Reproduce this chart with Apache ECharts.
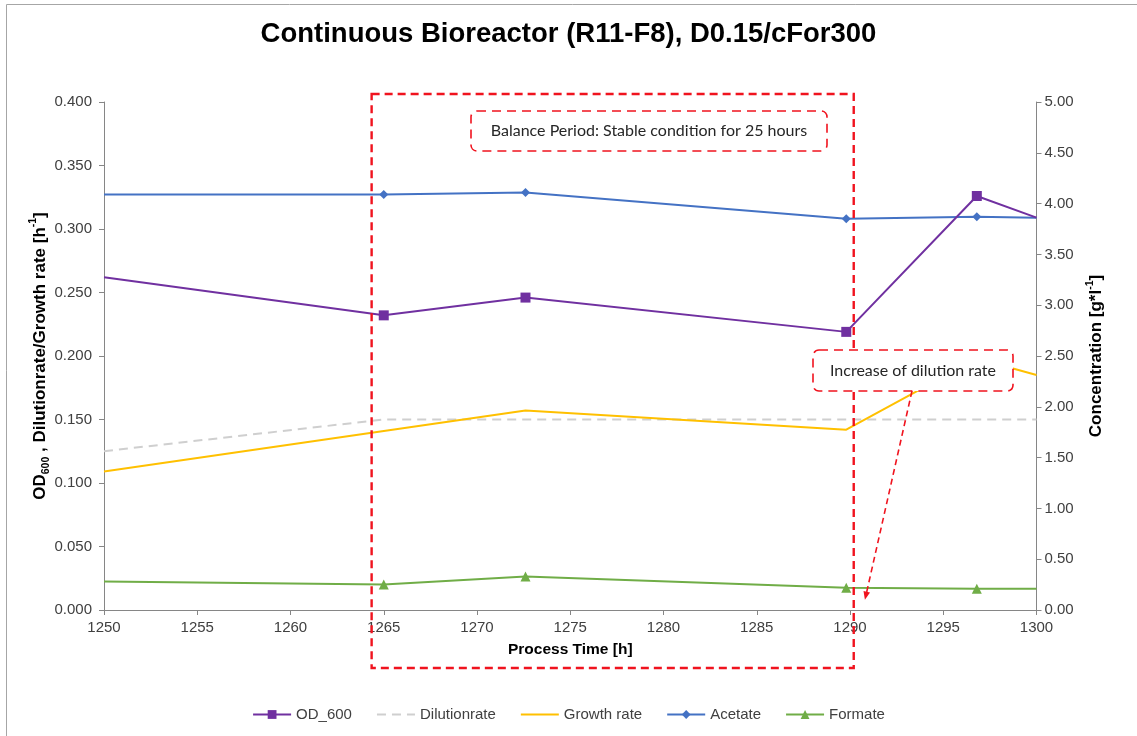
<!DOCTYPE html>
<html>
<head>
<meta charset="utf-8">
<title>Continuous Bioreactor (R11-F8), D0.15/cFor300</title>
<script src="https://cdn.jsdelivr.net/npm/echarts@6/dist/echarts.min.js"></script>
<style>
  html, body { margin: 0; padding: 0; background: #ffffff; }
  #chart { width: 1137px; height: 736px; }
</style>
</head>
<body>
<div id="chart"></div>
<script>
// Process time [h] of each reading; the first and last entries are where the lines meet the plot edges
const odTime = [1250, 1265, 1272.6, 1289.8, 1296.8, 1300];
const od600 = [0.262, 0.232, 0.246, 0.219, 0.326, 0.309];

const dilutionTime = [1250, 1265, 1300];
const dilutionRate = [0.125, 0.150, 0.150];

const growthTime = [1250, 1272.6, 1289.8, 1296.8, 1300];
const growthRate = [0.109, 0.157, 0.142, 0.198, 0.185];

const concTime = [1250, 1265, 1272.6, 1289.8, 1296.8, 1300];
const acetate = [4.09, 4.09, 4.11, 3.85, 3.87, 3.86];
const formate = [0.28, 0.25, 0.33, 0.22, 0.21, 0.21];

const xMin = 1250, xMax = 1300, xStep = 5;
const leftTicks = { min: 0, max: 0.4, step: 0.05, digits: 3 };
const rightTicks = { min: 0, max: 5, step: 0.5, digits: 2 };

// balance window and the dilution step it points to [h]
const balanceStart = 1264.35, balanceEnd = 1290.2;
const stepTime = 1290.8;

const FONT = 'Liberation Sans, Arial, sans-serif';
const NOTE_FONT = 'Lato, "Open Sans", sans-serif';
const RED = '#f0131e';

// points cut by the plot edge carry no marker
const points = (xs, ys) => xs.map((x, i) => {
  const item = { value: [x, ys[i]] };
  if (x <= xMin || x >= xMax) item.symbol = 'none';
  return item;
});

const chart = echarts.init(document.getElementById('chart'), null, { renderer: 'canvas' });

const axisLine = { show: true, lineStyle: { color: '#868686', width: 1 } };
const axisTick = { show: true, length: 5, lineStyle: { color: '#868686' } };
const tickLabel = { color: '#404040', fontSize: 15, fontFamily: FONT };
const nameRich = {
  a: { fontFamily: FONT, fontSize: 17, fontWeight: 'bold', color: '#000', lineHeight: 24 },
  s: { fontFamily: FONT, fontSize: 10.5, fontWeight: 'bold', color: '#000', lineHeight: 13, verticalAlign: 'bottom' },
  p: { fontFamily: FONT, fontSize: 10.5, fontWeight: 'bold', color: '#000', lineHeight: 13, verticalAlign: 'top' }
};

chart.setOption({
  animation: false,
  backgroundColor: '#ffffff',
  title: {
    text: 'Continuous Bioreactor (R11-F8), D0.15/cFor300',
    left: 'center',
    top: 15,
    textStyle: { fontFamily: FONT, fontSize: 27.5, fontWeight: 'bold', color: '#000000' }
  },
  grid: { left: 104, right: 100.5, top: 102, bottom: 126, containLabel: false },
  legend: {
    bottom: 9,
    left: 'center',
    itemWidth: 38,
    itemHeight: 11,
    itemGap: 24,
    textStyle: { color: '#404040', fontSize: 15, fontFamily: FONT },
    data: ['OD_600', 'Dilutionrate', 'Growth rate', 'Acetate', 'Formate']
  },
  xAxis: {
    type: 'value',
    min: xMin, max: xMax, interval: xStep,
    name: 'Process Time [h]',
    nameLocation: 'middle',
    nameGap: 32,
    nameTextStyle: { fontFamily: FONT, fontSize: 15.5, fontWeight: 'bold', color: '#000000' },
    axisLine, axisTick,
    axisLabel: Object.assign({ margin: 10, formatter: v => String(v) }, tickLabel),
    splitLine: { show: false }
  },
  yAxis: [
    {
      type: 'value',
      position: 'left',
      min: leftTicks.min, max: leftTicks.max, interval: leftTicks.step,
      name: '{a|OD}{s|600}{a| , Dilutionrate/Growth rate [h}{p|-1}{a|]}',
      nameLocation: 'middle',
      nameRotate: 90,
      nameGap: 52,
      nameMoveOverlap: false,
      nameTextStyle: { rich: nameRich },
      axisLine, axisTick,
      axisLabel: Object.assign({ margin: 12, formatter: v => v.toFixed(leftTicks.digits) }, tickLabel),
      splitLine: { show: false }
    },
    {
      type: 'value',
      position: 'right',
      min: rightTicks.min, max: rightTicks.max, interval: rightTicks.step,
      name: '{a|Concentration [g*l}{p|-1}{a|]}',
      nameLocation: 'middle',
      nameRotate: 90,
      nameGap: 44,
      nameTextStyle: { rich: nameRich },
      axisLine, axisTick,
      axisLabel: Object.assign({ margin: 8, formatter: v => v.toFixed(rightTicks.digits) }, tickLabel),
      splitLine: { show: false }
    }
  ],
  series: [
    {
      name: 'Dilutionrate',
      type: 'line',
      yAxisIndex: 0,
      data: points(dilutionTime, dilutionRate),
      symbol: 'line',
      showSymbol: false,
      lineStyle: { color: '#cfcfcf', width: 2, type: [9, 6] },
      itemStyle: { color: '#cfcfcf' },
      z: 2
    },
    {
      name: 'Growth rate',
      type: 'line',
      yAxisIndex: 0,
      data: points(growthTime, growthRate),
      symbol: 'line',
      showSymbol: false,
      lineStyle: { color: '#ffc000', width: 2 },
      itemStyle: { color: '#ffc000' },
      z: 3
    },
    {
      name: 'Formate',
      type: 'line',
      yAxisIndex: 1,
      data: points(concTime, formate),
      symbol: 'triangle',
      symbolSize: 10,
      showAllSymbol: true,
      lineStyle: { color: '#70ad47', width: 2 },
      itemStyle: { color: '#70ad47' },
      z: 4
    },
    {
      name: 'Acetate',
      type: 'line',
      yAxisIndex: 1,
      data: points(concTime, acetate),
      symbol: 'diamond',
      symbolSize: 9,
      showAllSymbol: true,
      lineStyle: { color: '#4472c4', width: 2 },
      itemStyle: { color: '#4472c4' },
      z: 5
    },
    {
      name: 'OD_600',
      type: 'line',
      yAxisIndex: 0,
      data: points(odTime, od600),
      symbol: 'rect',
      symbolSize: 10,
      showAllSymbol: true,
      lineStyle: { color: '#7030a0', width: 2 },
      itemStyle: { color: '#7030a0' },
      z: 6
    }
  ]
});

// Annotations: balance window, notes and the arrow to the dilution step
const px = (t, v) => chart.convertToPixel({ xAxisIndex: 0, yAxisIndex: 0 }, [t, v]);
const winL = px(balanceStart, 0)[0];
const winR = px(balanceEnd, 0)[0];
const tip = px(stepTime, 0.008);

const dash = { stroke: RED, lineWidth: 1.6, lineDash: [9, 6] };
const arrowFrom = [912, 391];
const ang = Math.atan2(tip[1] - arrowFrom[1], tip[0] - arrowFrom[0]);
const head = 9, spread = 0.38;
const headPts = [
  tip,
  [tip[0] - head * Math.cos(ang - spread), tip[1] - head * Math.sin(ang - spread)],
  [tip[0] - head * Math.cos(ang + spread), tip[1] - head * Math.sin(ang + spread)]
];

chart.setOption({
  graphic: [
    {
      type: 'rect', silent: true, z: 0,
      shape: { x: 6.5, y: 4.5, width: 1150, height: 760 },
      style: { fill: 'none', stroke: '#a6a6a6', lineWidth: 1 }
    },
    {
      type: 'rect', silent: true, z: 50,
      shape: { x: winL, y: 94, width: winR - winL, height: 574 },
      style: { fill: 'none', stroke: RED, lineWidth: 2.4, lineDash: [8, 5] }
    },
    {
      type: 'rect', silent: true, z: 51,
      shape: { x: 471, y: 111, width: 356, height: 40, r: 6 },
      style: Object.assign({ fill: '#ffffff' }, dash)
    },
    {
      type: 'text', silent: true, z: 52,
      style: {
        x: 649, y: 131, text: 'Balance Period: Stable condition for 25 hours',
        align: 'center', verticalAlign: 'middle',
        fill: '#262626', fontSize: 16, fontFamily: NOTE_FONT
      }
    },
    {
      type: 'rect', silent: true, z: 51,
      shape: { x: 813, y: 350, width: 200, height: 41, r: 6 },
      style: Object.assign({ fill: '#ffffff' }, dash)
    },
    {
      type: 'text', silent: true, z: 52,
      style: {
        x: 913, y: 370.5, text: 'Increase of dilution rate',
        align: 'center', verticalAlign: 'middle',
        fill: '#262626', fontSize: 16, fontFamily: NOTE_FONT
      }
    },
    {
      type: 'line', silent: true, z: 51,
      shape: { x1: arrowFrom[0], y1: arrowFrom[1], x2: tip[0] - 6 * Math.cos(ang), y2: tip[1] - 6 * Math.sin(ang) },
      style: { stroke: RED, lineWidth: 1.6, lineDash: [6, 4] }
    },
    {
      type: 'polygon', silent: true, z: 51,
      shape: { points: headPts },
      style: { fill: RED }
    }
  ]
});
</script>
</body>
</html>
